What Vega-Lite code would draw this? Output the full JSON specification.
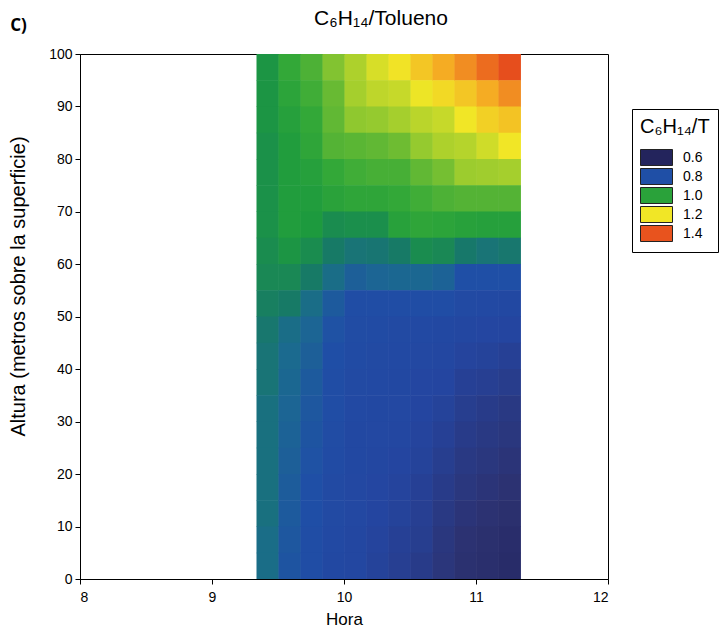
{
"$schema": "https://vega.github.io/schema/vega-lite/v6.json",
"padding": {"left": 8, "top": 7, "right": 0, "bottom": 0},
"background": "white",
"title": {"text": "C)", "anchor": "start", "frame": "bounds", "font": "Open Sans", "fontSize": 17, "fontWeight": "bold", "color": "#000", "offset": -27, "dx": 2},
"vconcat": [{
"width": 528,
"height": 525,
"title": {"text": "C₆H₁₄/Tolueno", "font": "Liberation Sans", "fontSize": 21, "fontWeight": "normal", "color": "#000", "anchor": "middle", "frame": "group", "dx": 37, "offset": 18},
"data": {"values": [
{"hora":9.3333,"alt":95,"r":0.96},{"hora":9.3333,"alt":90,"r":0.96},{"hora":9.3333,"alt":85,"r":0.96},{"hora":9.3333,"alt":80,"r":0.95},{"hora":9.3333,"alt":75,"r":0.95},{"hora":9.3333,"alt":70,"r":0.95},{"hora":9.3333,"alt":65,"r":0.95},{"hora":9.3333,"alt":60,"r":0.94},{"hora":9.3333,"alt":55,"r":0.93},{"hora":9.3333,"alt":50,"r":0.91},{"hora":9.3333,"alt":45,"r":0.89},{"hora":9.3333,"alt":40,"r":0.88},{"hora":9.3333,"alt":35,"r":0.88},{"hora":9.3333,"alt":30,"r":0.87},{"hora":9.3333,"alt":25,"r":0.87},{"hora":9.3333,"alt":20,"r":0.87},{"hora":9.3333,"alt":15,"r":0.87},{"hora":9.3333,"alt":10,"r":0.87},{"hora":9.3333,"alt":5,"r":0.86},{"hora":9.3333,"alt":0,"r":0.86},
{"hora":9.5,"alt":95,"r":1.02},{"hora":9.5,"alt":90,"r":1.005},{"hora":9.5,"alt":85,"r":0.99},{"hora":9.5,"alt":80,"r":0.98},{"hora":9.5,"alt":75,"r":0.98},{"hora":9.5,"alt":70,"r":0.98},{"hora":9.5,"alt":65,"r":0.98},{"hora":9.5,"alt":60,"r":0.96},{"hora":9.5,"alt":55,"r":0.93},{"hora":9.5,"alt":50,"r":0.9},{"hora":9.5,"alt":45,"r":0.86},{"hora":9.5,"alt":40,"r":0.85},{"hora":9.5,"alt":35,"r":0.845},{"hora":9.5,"alt":30,"r":0.84},{"hora":9.5,"alt":25,"r":0.835},{"hora":9.5,"alt":20,"r":0.83},{"hora":9.5,"alt":15,"r":0.825},{"hora":9.5,"alt":10,"r":0.82},{"hora":9.5,"alt":5,"r":0.815},{"hora":9.5,"alt":0,"r":0.81},
{"hora":9.6667,"alt":95,"r":1.04},{"hora":9.6667,"alt":90,"r":1.03},{"hora":9.6667,"alt":85,"r":1.02},{"hora":9.6667,"alt":80,"r":1.01},{"hora":9.6667,"alt":75,"r":0.99},{"hora":9.6667,"alt":70,"r":0.98},{"hora":9.6667,"alt":65,"r":0.97},{"hora":9.6667,"alt":60,"r":0.94},{"hora":9.6667,"alt":55,"r":0.9},{"hora":9.6667,"alt":50,"r":0.86},{"hora":9.6667,"alt":45,"r":0.84},{"hora":9.6667,"alt":40,"r":0.83},{"hora":9.6667,"alt":35,"r":0.82},{"hora":9.6667,"alt":30,"r":0.815},{"hora":9.6667,"alt":25,"r":0.81},{"hora":9.6667,"alt":20,"r":0.805},{"hora":9.6667,"alt":15,"r":0.8},{"hora":9.6667,"alt":10,"r":0.795},{"hora":9.6667,"alt":5,"r":0.79},{"hora":9.6667,"alt":0,"r":0.785},
{"hora":9.8333,"alt":95,"r":1.08},{"hora":9.8333,"alt":90,"r":1.06},{"hora":9.8333,"alt":85,"r":1.055},{"hora":9.8333,"alt":80,"r":1.045},{"hora":9.8333,"alt":75,"r":1.02},{"hora":9.8333,"alt":70,"r":1.0},{"hora":9.8333,"alt":65,"r":0.94},{"hora":9.8333,"alt":60,"r":0.9},{"hora":9.8333,"alt":55,"r":0.86},{"hora":9.8333,"alt":50,"r":0.82},{"hora":9.8333,"alt":45,"r":0.805},{"hora":9.8333,"alt":40,"r":0.795},{"hora":9.8333,"alt":35,"r":0.79},{"hora":9.8333,"alt":30,"r":0.785},{"hora":9.8333,"alt":25,"r":0.78},{"hora":9.8333,"alt":20,"r":0.775},{"hora":9.8333,"alt":15,"r":0.77},{"hora":9.8333,"alt":10,"r":0.77},{"hora":9.8333,"alt":5,"r":0.765},{"hora":9.8333,"alt":0,"r":0.76},
{"hora":10,"alt":95,"r":1.12},{"hora":10,"alt":90,"r":1.11},{"hora":10,"alt":85,"r":1.09},{"hora":10,"alt":80,"r":1.05},{"hora":10,"alt":75,"r":1.03},{"hora":10,"alt":70,"r":1.01},{"hora":10,"alt":65,"r":0.945},{"hora":10,"alt":60,"r":0.88},{"hora":10,"alt":55,"r":0.83},{"hora":10,"alt":50,"r":0.79},{"hora":10,"alt":45,"r":0.78},{"hora":10,"alt":40,"r":0.775},{"hora":10,"alt":35,"r":0.77},{"hora":10,"alt":30,"r":0.765},{"hora":10,"alt":25,"r":0.76},{"hora":10,"alt":20,"r":0.76},{"hora":10,"alt":15,"r":0.755},{"hora":10,"alt":10,"r":0.755},{"hora":10,"alt":5,"r":0.75},{"hora":10,"alt":0,"r":0.75},
{"hora":10.1667,"alt":95,"r":1.17},{"hora":10.1667,"alt":90,"r":1.14},{"hora":10.1667,"alt":85,"r":1.095},{"hora":10.1667,"alt":80,"r":1.055},{"hora":10.1667,"alt":75,"r":1.035},{"hora":10.1667,"alt":70,"r":1.01},{"hora":10.1667,"alt":65,"r":0.945},{"hora":10.1667,"alt":60,"r":0.885},{"hora":10.1667,"alt":55,"r":0.84},{"hora":10.1667,"alt":50,"r":0.785},{"hora":10.1667,"alt":45,"r":0.775},{"hora":10.1667,"alt":40,"r":0.77},{"hora":10.1667,"alt":35,"r":0.765},{"hora":10.1667,"alt":30,"r":0.76},{"hora":10.1667,"alt":25,"r":0.755},{"hora":10.1667,"alt":20,"r":0.75},{"hora":10.1667,"alt":15,"r":0.745},{"hora":10.1667,"alt":10,"r":0.74},{"hora":10.1667,"alt":5,"r":0.735},{"hora":10.1667,"alt":0,"r":0.73},
{"hora":10.3333,"alt":95,"r":1.205},{"hora":10.3333,"alt":90,"r":1.15},{"hora":10.3333,"alt":85,"r":1.11},{"hora":10.3333,"alt":80,"r":1.065},{"hora":10.3333,"alt":75,"r":1.035},{"hora":10.3333,"alt":70,"r":1.02},{"hora":10.3333,"alt":65,"r":0.995},{"hora":10.3333,"alt":60,"r":0.9},{"hora":10.3333,"alt":55,"r":0.845},{"hora":10.3333,"alt":50,"r":0.785},{"hora":10.3333,"alt":45,"r":0.77},{"hora":10.3333,"alt":40,"r":0.765},{"hora":10.3333,"alt":35,"r":0.76},{"hora":10.3333,"alt":30,"r":0.755},{"hora":10.3333,"alt":25,"r":0.75},{"hora":10.3333,"alt":20,"r":0.74},{"hora":10.3333,"alt":15,"r":0.735},{"hora":10.3333,"alt":10,"r":0.73},{"hora":10.3333,"alt":5,"r":0.72},{"hora":10.3333,"alt":0,"r":0.715},
{"hora":10.5,"alt":95,"r":1.25},{"hora":10.5,"alt":90,"r":1.195},{"hora":10.5,"alt":85,"r":1.135},{"hora":10.5,"alt":80,"r":1.095},{"hora":10.5,"alt":75,"r":1.055},{"hora":10.5,"alt":70,"r":1.03},{"hora":10.5,"alt":65,"r":1.01},{"hora":10.5,"alt":60,"r":0.94},{"hora":10.5,"alt":55,"r":0.845},{"hora":10.5,"alt":50,"r":0.79},{"hora":10.5,"alt":45,"r":0.765},{"hora":10.5,"alt":40,"r":0.755},{"hora":10.5,"alt":35,"r":0.745},{"hora":10.5,"alt":30,"r":0.74},{"hora":10.5,"alt":25,"r":0.735},{"hora":10.5,"alt":20,"r":0.73},{"hora":10.5,"alt":15,"r":0.72},{"hora":10.5,"alt":10,"r":0.715},{"hora":10.5,"alt":5,"r":0.71},{"hora":10.5,"alt":0,"r":0.7},
{"hora":10.6667,"alt":95,"r":1.29},{"hora":10.6667,"alt":90,"r":1.22},{"hora":10.6667,"alt":85,"r":1.15},{"hora":10.6667,"alt":80,"r":1.12},{"hora":10.6667,"alt":75,"r":1.07},{"hora":10.6667,"alt":70,"r":1.04},{"hora":10.6667,"alt":65,"r":1.005},{"hora":10.6667,"alt":60,"r":0.93},{"hora":10.6667,"alt":55,"r":0.835},{"hora":10.6667,"alt":50,"r":0.785},{"hora":10.6667,"alt":45,"r":0.76},{"hora":10.6667,"alt":40,"r":0.75},{"hora":10.6667,"alt":35,"r":0.74},{"hora":10.6667,"alt":30,"r":0.73},{"hora":10.6667,"alt":25,"r":0.72},{"hora":10.6667,"alt":20,"r":0.71},{"hora":10.6667,"alt":15,"r":0.7},{"hora":10.6667,"alt":10,"r":0.69},{"hora":10.6667,"alt":5,"r":0.68},{"hora":10.6667,"alt":0,"r":0.675},
{"hora":10.8333,"alt":95,"r":1.33},{"hora":10.8333,"alt":90,"r":1.25},{"hora":10.8333,"alt":85,"r":1.2},{"hora":10.8333,"alt":80,"r":1.13},{"hora":10.8333,"alt":75,"r":1.1},{"hora":10.8333,"alt":70,"r":1.045},{"hora":10.8333,"alt":65,"r":0.995},{"hora":10.8333,"alt":60,"r":0.895},{"hora":10.8333,"alt":55,"r":0.8},{"hora":10.8333,"alt":50,"r":0.77},{"hora":10.8333,"alt":45,"r":0.75},{"hora":10.8333,"alt":40,"r":0.735},{"hora":10.8333,"alt":35,"r":0.72},{"hora":10.8333,"alt":30,"r":0.71},{"hora":10.8333,"alt":25,"r":0.7},{"hora":10.8333,"alt":20,"r":0.69},{"hora":10.8333,"alt":15,"r":0.68},{"hora":10.8333,"alt":10,"r":0.67},{"hora":10.8333,"alt":5,"r":0.66},{"hora":10.8333,"alt":0,"r":0.655},
{"hora":11,"alt":95,"r":1.37},{"hora":11,"alt":90,"r":1.29},{"hora":11,"alt":85,"r":1.235},{"hora":11,"alt":80,"r":1.16},{"hora":11,"alt":75,"r":1.105},{"hora":11,"alt":70,"r":1.045},{"hora":11,"alt":65,"r":0.99},{"hora":11,"alt":60,"r":0.88},{"hora":11,"alt":55,"r":0.8},{"hora":11,"alt":50,"r":0.765},{"hora":11,"alt":45,"r":0.745},{"hora":11,"alt":40,"r":0.73},{"hora":11,"alt":35,"r":0.715},{"hora":11,"alt":30,"r":0.7},{"hora":11,"alt":25,"r":0.69},{"hora":11,"alt":20,"r":0.68},{"hora":11,"alt":15,"r":0.67},{"hora":11,"alt":10,"r":0.66},{"hora":11,"alt":5,"r":0.65},{"hora":11,"alt":0,"r":0.645},
{"hora":11.1667,"alt":95,"r":1.41},{"hora":11.1667,"alt":90,"r":1.33},{"hora":11.1667,"alt":85,"r":1.255},{"hora":11.1667,"alt":80,"r":1.2},{"hora":11.1667,"alt":75,"r":1.11},{"hora":11.1667,"alt":70,"r":1.045},{"hora":11.1667,"alt":65,"r":0.99},{"hora":11.1667,"alt":60,"r":0.89},{"hora":11.1667,"alt":55,"r":0.8},{"hora":11.1667,"alt":50,"r":0.76},{"hora":11.1667,"alt":45,"r":0.74},{"hora":11.1667,"alt":40,"r":0.72},{"hora":11.1667,"alt":35,"r":0.705},{"hora":11.1667,"alt":30,"r":0.69},{"hora":11.1667,"alt":25,"r":0.68},{"hora":11.1667,"alt":20,"r":0.67},{"hora":11.1667,"alt":15,"r":0.66},{"hora":11.1667,"alt":10,"r":0.65},{"hora":11.1667,"alt":5,"r":0.64},{"hora":11.1667,"alt":0,"r":0.635}
]},
"mark": {"type": "rect", "clip": true},
"encoding": {
"x": {"field": "hora", "type": "quantitative", "bin": {"binned": true, "step": 0.17},
"scale": {"domain": [8, 12], "nice": false, "zero": false},
"axis": {"values": [8, 9, 10, 11, 12], "format": "d", "title": "Hora", "labelPadding": 6, "titlePadding": 7, "titleFontSize": 17}},
"y": {"field": "alt", "type": "quantitative", "bin": {"binned": true, "step": 5.1},
"scale": {"domain": [0, 100], "nice": false},
"axis": {"values": [0, 10, 20, 30, 40, 50, 60, 70, 80, 90, 100], "title": "Altura (metros sobre la superficie)", "labelPadding": 3, "titlePadding": 20, "titleFontSize": 20, "titleY": 232}},
"color": {"field": "r", "type": "quantitative",
"scale": {"type": "linear",
"domain": [0.6, 0.66, 0.74, 0.8, 0.85, 0.9, 0.97, 1.02, 1.1, 1.2, 1.3, 1.4, 1.45],
"range": ["#23245c", "#2c3272", "#2445a0", "#1f4fa6", "#1b6a8f", "#177a66", "#1d9a3e", "#33a838", "#9ccc2e", "#f1e626", "#f5a623", "#e8531e", "#df3b1a"],
"interpolate": "rgb"},
"legend": {"type": "symbol", "values": [0.6, 0.8, 1.0, 1.2, 1.4], "format": ".1f", "title": "C₆H₁₄/T",
"orient": "none", "legendX": 552, "legendY": 55,
"symbolType": "M-1,-1H3V1H-1Z", "symbolSize": 256, "symbolStrokeColor": "#222", "symbolStrokeWidth": 1,
"strokeColor": "#000", "padding": 8, "rowPadding": -3,
"titleFontSize": 20, "titleFontWeight": "normal", "titleColor": "#000", "titlePadding": 12,
"labelFontSize": 14, "labelColor": "#000", "labelOffset": 26}}
}
}],
"config": {
"font": "Liberation Sans",
"view": {"stroke": "#000", "strokeWidth": 1},
"axis": {"labelFontSize": 14, "labelColor": "#000", "titleFontSize": 15, "titleFontWeight": "normal", "titleColor": "#000", "domainColor": "#000", "tickColor": "#000", "grid": false, "tickSize": 5}
}
}
